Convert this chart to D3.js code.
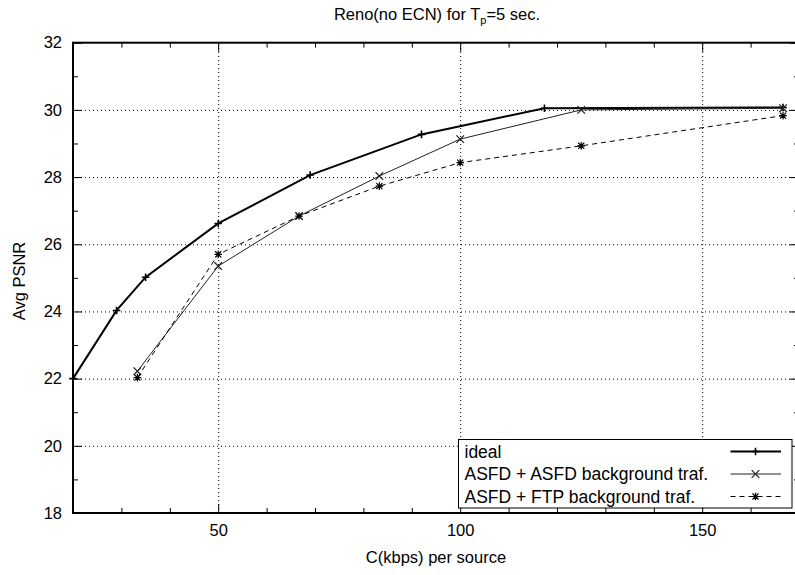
<!DOCTYPE html>
<html>
<head>
<meta charset="utf-8">
<script src="https://cdn.jsdelivr.net/npm/d3@7"></script>
<style>
  body { margin: 0; background: #fff; }
  svg { display: block; font-family: "Liberation Sans", Arial, sans-serif; }
  .grid line { stroke: #000; stroke-dasharray: 1,3; stroke-width: 1; }
  .grid path { display: none; }
</style>
</head>
<body>
<div class="vis"></div>
<script>
// series: x = C (kbps) per source, y = avg PSNR
const idealX = [20, 29, 35, 50, 69, 92, 117.4, 166.7];
const idealY = [22.0, 24.03, 25.02, 26.62, 28.06, 29.27, 30.05, 30.07];
const asfdX = [33.3, 50, 66.7, 83.3, 100, 125, 166.7];
const asfdY = [22.22, 25.35, 26.84, 28.03, 29.13, 30.0, 30.05];
const ftpX = [33.3, 50, 66.7, 83.3, 100, 125, 166.7];
const ftpY = [22.03, 25.7, 26.84, 27.73, 28.43, 28.93, 29.83];

const seriesNames = ['ideal', 'ASFD + ASFD background traf.', 'ASFD + FTP background traf.'];
const xMajor = [50, 100, 150];
const yMajor = [18, 20, 22, 24, 26, 28, 30, 32];

const W = 795, H = 575;
const margin = { top: 42.7, right: -4, bottom: 62, left: 73 };
const width = W - margin.left - margin.right;
const height = H - margin.top - margin.bottom;
const fs = 16.5;

const svg = d3.select('.vis')
  .append('svg')
  .attr('width', W)
  .attr('height', H);

const g = svg.append('g')
  .attr('transform', `translate(${margin.left},${margin.top})`);

const x = d3.scaleLinear().domain([20, 170]).range([0, width]);
const y = d3.scaleLinear().domain([18, 32]).range([height, 0]);

// grid
g.append('g')
  .attr('class', 'grid')
  .attr('transform', `translate(0,${height})`)
  .call(d3.axisBottom(x).tickValues(xMajor).tickSize(-height).tickFormat(''));
g.append('g')
  .attr('class', 'grid')
  .call(d3.axisLeft(y).tickValues(yMajor.slice(1, -1)).tickSize(-width).tickFormat(''));

const styleAxis = (sel) => {
  sel.select('.domain').remove();
  sel.selectAll('line').attr('stroke', '#000').attr('stroke-width', 1);
  sel.selectAll('text').attr('font-size', fs).attr('fill', '#000')
    .attr('font-family', '"Liberation Sans", Arial, sans-serif');
};

const xMinor = d3.range(20, 171, 10).filter((v) => !xMajor.includes(v));
const yMinor = d3.range(19, 32, 2);

// bottom axis (ticks pointing in)
g.append('g').attr('transform', `translate(0,${height})`)
  .call(d3.axisBottom(x).tickValues(xMinor).tickSize(-5).tickFormat(''))
  .call(styleAxis);
g.append('g').attr('transform', `translate(0,${height})`)
  .call(d3.axisBottom(x).tickValues(xMajor).tickSize(-9).tickPadding(11))
  .call(styleAxis);
// top mirror
g.append('g')
  .call(d3.axisTop(x).tickValues(xMinor).tickSize(-5).tickFormat(''))
  .call(styleAxis);
g.append('g')
  .call(d3.axisTop(x).tickValues(xMajor).tickSize(-9).tickFormat(''))
  .call(styleAxis);
// left axis
g.append('g')
  .call(d3.axisLeft(y).tickValues(yMinor).tickSize(-5).tickFormat(''))
  .call(styleAxis);
g.append('g')
  .call(d3.axisLeft(y).tickValues(yMajor).tickSize(-9).tickPadding(11))
  .call(styleAxis);
// right mirror
g.append('g').attr('transform', `translate(${width},0)`)
  .call(d3.axisRight(y).tickValues(yMinor).tickSize(-5).tickFormat(''))
  .call(styleAxis);
g.append('g').attr('transform', `translate(${width},0)`)
  .call(d3.axisRight(y).tickValues(yMajor).tickSize(-9).tickFormat(''))
  .call(styleAxis);

// border
g.append('rect')
  .attr('width', width).attr('height', height)
  .attr('fill', 'none').attr('stroke', '#000').attr('stroke-width', 2);

// marker shapes
const plus = (s) => `M${-s},0H${s}M0,${-s}V${s}`;
const cross = (s) => `M${-s},${-s}L${s},${s}M${-s},${s}L${s},${-s}`;
const star = (s) => plus(s) + cross(s * 0.8);

const series = [
  { name: seriesNames[0], xs: idealX, ys: idealY, color: '#000', lw: 2, dash: null, mark: plus },
  { name: seriesNames[1], xs: asfdX, ys: asfdY, color: '#222', lw: 1, dash: null, mark: cross },
  { name: seriesNames[2], xs: ftpX, ys: ftpY, color: '#000', lw: 1, dash: '5,4', mark: star },
];

const line = d3.line().x((d) => x(d[0])).y((d) => y(d[1]));

series.forEach((s) => {
  const pts = s.xs.map((v, i) => [v, s.ys[i]]);
  g.append('path')
    .datum(pts)
    .attr('d', line)
    .attr('fill', 'none')
    .attr('stroke', s.color)
    .attr('stroke-width', s.lw)
    .attr('stroke-dasharray', s.dash);
  g.selectAll(null)
    .data(pts)
    .enter()
    .append('path')
    .attr('transform', (d) => `translate(${x(d[0])},${y(d[1])})`)
    .attr('d', s.mark(3.8))
    .attr('stroke', s.color)
    .attr('stroke-width', s.lw === 2 ? 1.6 : 1.2)
    .attr('fill', 'none');
});

// legend
const lg = svg.append('g').attr('transform', 'translate(458.5,439.5)');
lg.append('rect')
  .attr('width', 333.5).attr('height', 68.5)
  .attr('fill', '#fff').attr('stroke', '#000').attr('stroke-width', 1);
series.forEach((s, i) => {
  const row = lg.append('g').attr('transform', `translate(0,${12 + i * 22.5})`);
  row.append('text')
    .attr('x', 6).attr('y', 6)
    .attr('font-size', 17.5)
    .text(s.name);
  row.append('line')
    .attr('x1', 272).attr('x2', 322.5)
    .attr('stroke', s.color).attr('stroke-width', s.lw)
    .attr('stroke-dasharray', s.dash);
  row.append('path')
    .attr('transform', 'translate(297,0)')
    .attr('d', s.mark(3.8))
    .attr('stroke', s.color)
    .attr('stroke-width', s.lw === 2 ? 1.6 : 1.2)
    .attr('fill', 'none');
});

// titles
const title = svg.append('text')
  .attr('x', 437).attr('y', 20)
  .attr('text-anchor', 'middle')
  .attr('font-size', fs);
title.append('tspan').text('Reno(no ECN) for T');
title.append('tspan').attr('font-size', 11).attr('dy', 4).text('p');
title.append('tspan').attr('dy', -4).text('=5 sec.');

svg.append('text')
  .attr('x', 436).attr('y', 563)
  .attr('text-anchor', 'middle')
  .attr('font-size', fs)
  .text('C(kbps) per source');

svg.append('text')
  .attr('transform', 'translate(25,281) rotate(-90)')
  .attr('text-anchor', 'middle')
  .attr('font-size', fs)
  .text('Avg PSNR');
</script>
</body>
</html>
